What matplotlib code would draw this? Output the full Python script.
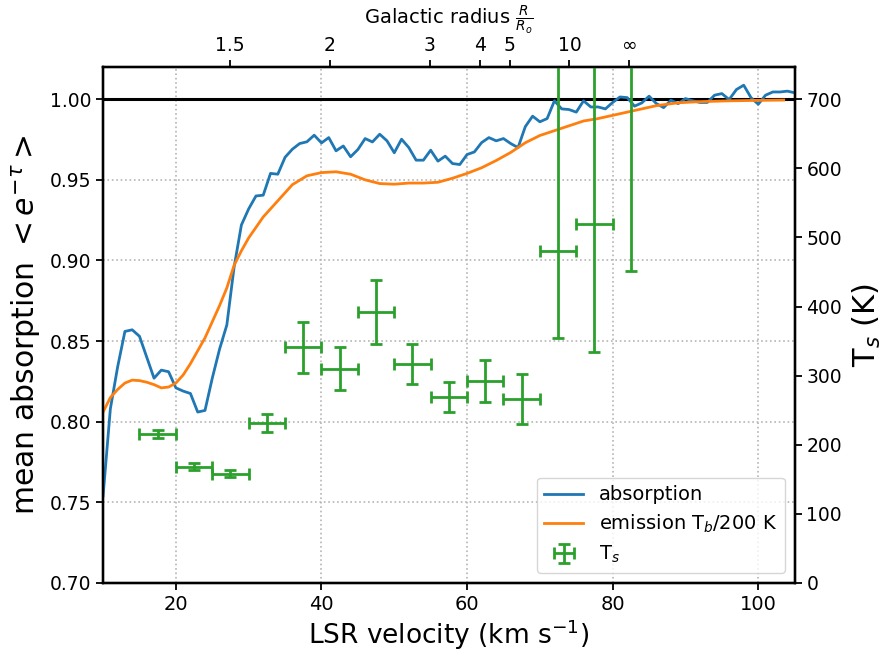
import numpy as np
import matplotlib
matplotlib.use("Agg")
import matplotlib.pyplot as plt
from matplotlib.lines import Line2D

# --- data -------------------------------------------------------------------
velocity = np.arange(10, 106)  # LSR velocity, km/s
absorption = [
    0.754, 0.808, 0.834, 0.856, 0.857, 0.853, 0.840, 0.827, 0.832, 0.831,
    0.821, 0.819, 0.8175, 0.806, 0.807, 0.827, 0.845, 0.860, 0.896, 0.922,
    0.932, 0.940, 0.9405, 0.954, 0.9535, 0.964, 0.969, 0.9725, 0.9736, 0.9777,
    0.9729, 0.9762, 0.968, 0.971, 0.9643, 0.9688, 0.9756, 0.9735, 0.9783, 0.9742,
    0.9668, 0.9752, 0.970, 0.9622, 0.9622, 0.9684, 0.9616, 0.9647, 0.9601, 0.9595,
    0.9657, 0.9673, 0.9731, 0.9762, 0.9742, 0.9756, 0.9725, 0.970, 0.983, 0.9895,
    0.986, 0.988, 0.999, 0.994, 0.9936, 0.992, 0.999, 0.9952, 0.9952, 0.994,
    0.998, 1.0014, 1.001, 0.9957, 0.9977, 1.0019, 0.9973, 0.9948, 0.9994, 0.9973,
    1.0004, 0.999, 0.998, 0.998, 1.0025, 1.0035, 0.9998, 1.006, 1.0087, 1.001,
    0.9969, 1.0025, 1.0045, 1.0045, 1.005, 1.004,
]

emission_v = [10, 11, 12, 13, 14, 15, 16, 17, 18, 19, 20, 21, 22, 23, 24, 25,
              26, 27, 28, 29, 30, 32, 34, 36, 38, 40, 42, 44, 46, 48, 50, 52,
              54, 56, 58, 60, 62, 64, 66, 68, 70, 72, 74, 76, 78, 80, 83, 86,
              89, 92, 96, 100, 103.5]
emission = [0.806, 0.815, 0.820, 0.824, 0.8258, 0.8255, 0.8245, 0.823, 0.821,
            0.8215, 0.824, 0.829, 0.836, 0.844, 0.852, 0.862, 0.872, 0.883,
            0.897, 0.906, 0.914, 0.927, 0.937, 0.947, 0.9525, 0.9545, 0.955,
            0.9535, 0.950, 0.9477, 0.9473, 0.948, 0.948, 0.9485, 0.951, 0.954,
            0.9575, 0.962, 0.967, 0.973, 0.9775, 0.9805, 0.9835, 0.9865, 0.988,
            0.990, 0.993, 0.996, 0.9978, 0.9985, 0.999, 0.9993, 0.9995]

ts_velocity = [17.5, 22.5, 27.5, 32.5, 37.5, 42.5, 47.5, 52.5, 57.5, 62.5,
               67.5, 72.5, 77.5, 82.5]
ts_kelvin = [216, 168, 158, 231, 341, 310, 392, 317, 269, 292, 266, 480, 519, 800]
ts_err_low = [6, 5, 5, 13, 37, 31, 46, 29, 22, 30, 36, 126, 185, 349]
ts_err_high = [6, 5, 5, 13, 37, 31, 46, 29, 22, 30, 36, 320, 300, 349]
ts_bin_halfwidth = 2.5

radius_ticks = [1.5, 2, 3, 4, 5, 10, np.inf]
radius_labels = ["1.5", "2", "3", "4", "5", "10", "\u221e"]
v_at_infinity = 82.3  # velocity reached as R -> infinity

# --- figure -----------------------------------------------------------------
plt.rcParams["font.family"] = ["DejaVu Sans"]
plt.rcParams["axes.linewidth"] = 1.6

BLUE, ORANGE, GREEN = "#1f77b4", "#ff7f0e", "#2ca02c"

fig = plt.figure(figsize=(8.81, 6.54), dpi=100)
ax = fig.add_axes([0.117, 0.1086, 0.785, 0.789])

ax.plot(velocity, absorption, color=BLUE, lw=2.0, label="absorption", zorder=3)
ax.plot(emission_v, emission, color=ORANGE, lw=2.0,
        label="emission T$_b$/200 K", zorder=3)
ax.axhline(1.0, color="black", lw=2.2, zorder=2.5)

ax.set_xlim(10, 105)
ax.set_ylim(0.70, 1.02)
ax.set_xticks([20, 40, 60, 80, 100])
ax.set_yticks([0.70, 0.75, 0.80, 0.85, 0.90, 0.95, 1.00])
ax.yaxis.set_major_formatter(matplotlib.ticker.FormatStrFormatter("%.2f"))
ax.grid(True, linestyle=":", color="#b5b5b5", linewidth=1.2)
ax.tick_params(axis="x", labelsize=14, width=1.3, length=5)
ax.tick_params(axis="y", labelsize=13.5, width=1.3, length=5)
ax.set_xlabel("LSR velocity (km s$^{-1}$)", fontsize=19, labelpad=3)
ax.set_ylabel("mean absorption $<e^{-\\tau}>$", fontsize=21.5, labelpad=5)

# top axis: galactocentric radius in units of R0
ax_top = ax.twiny()
ax_top.set_xlim(ax.get_xlim())
top_pos = [v_at_infinity * (1.0 - 1.0 / r) for r in radius_ticks]
ax_top.set_xticks(top_pos)
ax_top.set_xticklabels(radius_labels)
ax_top.tick_params(labelsize=13.5, width=1.3, length=5)
ax_top.set_xlabel("Galactic radius $\\frac{R}{R_o}$", fontsize=14, labelpad=9)

# right axis: spin temperature
ax2 = ax.twinx()
ax2.set_ylim(0, 700 * 0.32 / 0.30)
ax2.set_yticks(range(0, 701, 100))
ax2.tick_params(labelsize=13.5, width=1.3, length=5)
ax2.set_ylabel("T$_s$ (K)", fontsize=22, labelpad=6)
eb = ax2.errorbar(ts_velocity, ts_kelvin, yerr=[ts_err_low, ts_err_high],
                  xerr=ts_bin_halfwidth, fmt="none", ecolor=GREEN,
                  elinewidth=2.0, capsize=4, capthick=2.0, label="T$_s$")

handles = [
    Line2D([], [], color=BLUE, lw=2.0),
    Line2D([], [], color=ORANGE, lw=2.0),
    eb,
]
labels = ["absorption", "emission T$_b$/200 K", "T$_s$"]
ax2.legend(handles, labels, loc="lower right", fontsize=14,
           framealpha=0.8, edgecolor="#cccccc", labelspacing=0.45)

fig.savefig("out.png", dpi=100)
